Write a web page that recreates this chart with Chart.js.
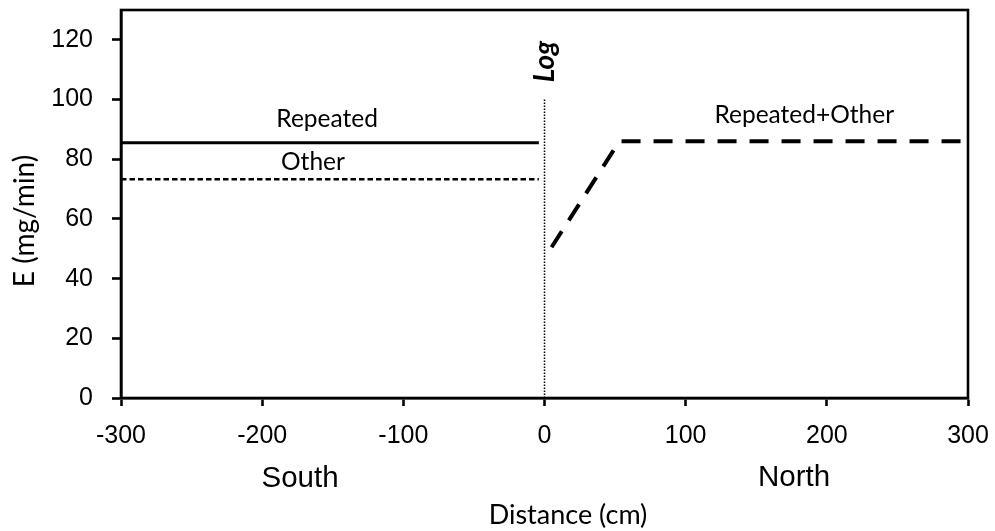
<!DOCTYPE html>
<html>
<head>
<meta charset="utf-8">
<script src="https://cdn.jsdelivr.net/npm/chart.js@4.4.1/dist/chart.umd.min.js"></script>
<style>
html,body{margin:0;padding:0;background:#fff;}
#wrap{width:995px;height:531px;position:relative;}
</style>
</head>
<body>
<div id="wrap"><canvas id="c" width="995" height="531"></canvas></div>
<script>
// ---- data ----
const repeatedDist = [-300, -4];
const repeatedE    = [85.5, 85.5];
const otherDist    = [-300, -4];
const otherE       = [73.3, 73.3];
const combinedDist = [5, 53, 300];
const combinedE    = [50.5, 86, 86];
const logDist      = [0, 0];
const logE         = [0, 100];
const xTickValues  = [-300, -200, -100, 0, 100, 200, 300];
const yTickValues  = [0, 20, 40, 60, 80, 100, 120];
const seriesLabels = ['Repeated', 'Other', 'Repeated+Other', 'Log'];
const sideLabels   = ['South', 'North'];
const xTitle = 'Distance (cm)';
const yTitle = 'E (mg/min)';

const toPts = (xs, ys) => xs.map((x, i) => ({x, y: ys[i]}));

const textPlugin = {
  id: 'texts',
  afterDraw(chart) {
    const ctx = chart.ctx, a = chart.chartArea;
    const xs = chart.scales.x, ys = chart.scales.y;
    ctx.save();
    // frame
    ctx.strokeStyle = '#000';
    ctx.lineWidth = 2.6;
    ctx.strokeRect(a.left, a.top, a.right - a.left, a.bottom - a.top);
    ctx.fillStyle = '#000';
    ctx.textAlign = 'center';
    ctx.textBaseline = 'middle';
    const calib = '"Lato", "Open Sans", sans-serif';
    ctx.font = '24.5px ' + calib;
    ctx.fillText(seriesLabels[0], xs.getPixelForValue(-154), ys.getPixelForValue(93.5));
    ctx.fillText(seriesLabels[1], xs.getPixelForValue(-164), ys.getPixelForValue(78.9));
    ctx.fillText(seriesLabels[2], xs.getPixelForValue(184), ys.getPixelForValue(94.8));
    // Log rotated
    ctx.save();
    ctx.translate(xs.getPixelForValue(0), ys.getPixelForValue(112.7));
    ctx.rotate(-Math.PI / 2);
    ctx.font = 'italic bold 28px ' + calib;
    ctx.fillText(seriesLabels[3], 0, 0);
    ctx.restore();
    // South / North
    ctx.font = '29.5px "Liberation Sans", Arial, sans-serif';
    ctx.fillText(sideLabels[0], 300, 479);
    ctx.fillText(sideLabels[1], 794, 478);
    // axis titles
    ctx.font = '27px ' + calib;
    ctx.fillText(xTitle, 568, 515);
    ctx.save();
    ctx.translate(25, 221);
    ctx.rotate(-Math.PI / 2);
    ctx.font = '28px ' + calib;
    ctx.fillText(yTitle, 0, 0);
    ctx.restore();
    ctx.restore();
  }
};

new Chart(document.getElementById('c'), {
  type: 'scatter',
  data: {
    datasets: [
      { label: seriesLabels[0], data: toPts(repeatedDist, repeatedE), showLine: true,
        borderColor: '#000', borderWidth: 3, pointRadius: 0 },
      { label: seriesLabels[1], data: toPts(otherDist, otherE), showLine: true,
        borderColor: '#000', borderWidth: 2.6, borderDash: [5.5, 3], pointRadius: 0 },
      { label: seriesLabels[2], data: toPts(combinedDist, combinedE), showLine: true,
        borderColor: '#000', borderWidth: 4, borderDash: [19, 13], pointRadius: 0 },
      { label: seriesLabels[3], data: toPts(logDist, logE), showLine: true,
        borderColor: '#000', borderWidth: 1.5, borderDash: [1.5, 1.5], pointRadius: 0 }
    ]
  },
  options: {
    responsive: false,
    animation: false,
    layout: { padding: { left: 0, top: 10, right: 27, bottom: 0 } },
    plugins: { legend: { display: false }, tooltip: { enabled: false } },
    scales: {
      x: {
        type: 'linear', min: -300, max: 300,
        afterBuildTicks: s => { s.ticks = xTickValues.map(v => ({value: v})); },
        afterFit: s => { s.height = 133; s.paddingLeft = 0; s.paddingRight = 0; },
        grid: { drawOnChartArea: false, drawTicks: true, tickLength: 8, tickColor: '#000', tickWidth: 2.6 },
        border: { display: true, color: '#000', width: 2.6 },
        ticks: { color: '#000', padding: 15, maxRotation: 0,
                 font: { family: '"Liberation Sans", Arial, sans-serif', size: 25 } }
      },
      y: {
        type: 'linear', min: 0, max: 130,
        afterBuildTicks: s => { s.ticks = yTickValues.map(v => ({value: v})); },
        afterFit: s => { s.width = 121; s.paddingTop = 0; s.paddingBottom = 0; },
        grid: { drawOnChartArea: false, drawTicks: true, tickLength: 9, tickColor: '#000', tickWidth: 2.6 },
        border: { display: true, color: '#000', width: 2.6 },
        ticks: { color: '#000', padding: 19,
                 font: { family: '"Liberation Sans", Arial, sans-serif', size: 25 } }
      }
    }
  },
  plugins: [textPlugin]
});
</script>
</body>
</html>
